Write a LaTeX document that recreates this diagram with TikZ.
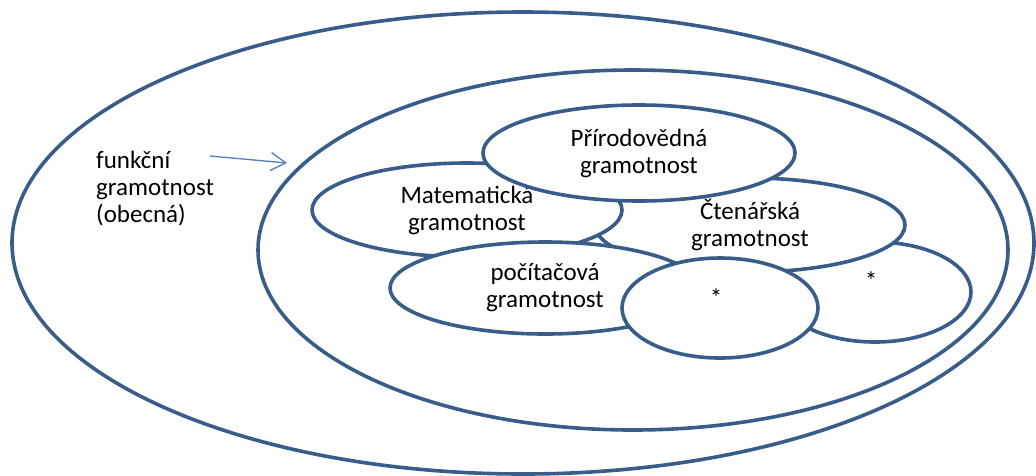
\documentclass[tikz,border=0pt]{standalone}
\usepackage{fontspec}
\setmainfont{Carlito}
\usetikzlibrary{shapes.geometric,arrows.meta}

\definecolor{outline}{HTML}{385D8A}
\definecolor{arrowblue}{HTML}{4F81BD}

\tikzstyle{area} = [ellipse, draw=outline, line width=3.6pt, fill=white, inner sep=0pt, align=center, font=\fontsize{25}{27}\selectfont]
\tikzstyle{plaintext} = [inner sep=0pt, font=\fontsize{25}{27}\selectfont]
\tikzstyle{arrow} = [draw=arrowblue, line width=1.3pt, -{Straight Barb[length=15pt,width=18pt]}]

\begin{document}
\begin{tikzpicture}[x=1pt, y=-1pt]
        \useasboundingbox (0,0) rectangle (1036,475);
        \node (outer) [area, minimum width=1022pt, minimum height=462pt] at (523,243) {};
        \node (inner) [area, minimum width=750pt, minimum height=360pt] at (633,250) {};
        \node (extra) [area, minimum width=192pt, minimum height=100pt] at (875,292) {};
        \node (reading) [area, minimum width=310pt, minimum height=94pt] at (750,225) {Čtenářská\\gramotnost};
        \node (maths) [area, minimum width=310pt, minimum height=94pt] at (467,210) {Matematická\\gramotnost};
        \node (science) [area, minimum width=312pt, minimum height=96pt] at (639,153) {Přírodovědná\\gramotnost};
        \node (computer) [area, minimum width=310pt, minimum height=92pt] at (545,288) {počítačová\\gramotnost};
        \node (other) [area, minimum width=196pt, minimum height=100pt] at (720,308) {};
        \node (otherstar) [plaintext] at (716,298) {*};
        \node (extrastar) [plaintext] at (871,281) {*};
        \node (general) [plaintext, anchor=west, align=left] at (96,189) {funkční\\gramotnost\\(obecná)};

        \coordinate (tail) at (210,156);
        \coordinate (head) at (287,163);
        \draw [arrow] (tail) -- (head);
    \end{tikzpicture}
\end{document}
